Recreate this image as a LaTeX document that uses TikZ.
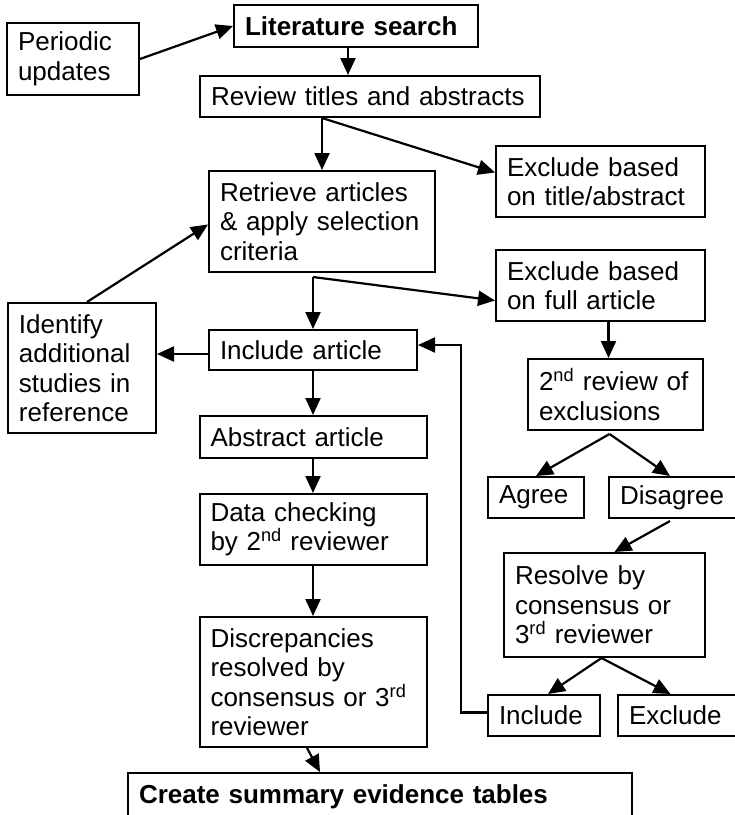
\documentclass[tikz,border=0pt]{standalone}
\usepackage{fontspec}
\setmainfont{Liberation Sans}
\usetikzlibrary{arrows.meta}
\def\nd{\textsuperscript{nd}}
\def\rd{\textsuperscript{rd}}
\begin{document}
\begin{tikzpicture}[x=1pt,y=1pt,
			box/.style={draw,rectangle,line width=2pt,align=left,inner xsep=11pt,inner ysep=2pt,
				font=\fontsize{26}{29.5}\selectfont},
			arr/.style={line width=2.2pt,-{Triangle[length=17pt,width=15pt]}}]
			\useasboundingbox (0,0) rectangle (735,-815);
			\clip (0,0) rectangle (735,-815);
			\node [box,text width=110pt,minimum height=72pt]	(periodic)	at (73,-59)	{Periodic\\updates};
			\node [box,text width=222pt,minimum height=42pt]	(lit)		at (356,-26)	{\textbf{Literature search}};
			\node [box,text width=318pt,minimum height=41pt]	(review)	at (370,-96.5)	{Review titles and abstracts};
			\node [box,text width=204pt,minimum height=101pt]	(retrieve)	at (322,-221.5)	{Retrieve articles\\\& apply selection\\criteria};
			\node [box,text width=187pt,minimum height=71pt]	(excltitle)	at (600.5,-181.5)	{Exclude based\\on title/abstract};
			\node [box,text width=187pt,minimum height=71pt]	(exclfull)	at (600.5,-285.5)	{Exclude based\\on full article};
			\node [box,text width=126pt,minimum height=130pt]	(identify)	at (82,-368)	{Identify\\additional\\studies in\\reference};
			\node [box,text width=186pt,minimum height=40pt]	(include)	at (313,-350)	{Include article};
			\node [box,text width=205pt,minimum height=42pt]	(abstract)	at (313,-437)	{Abstract article};
			\node [box,text width=205pt,minimum height=71pt]	(datacheck)	at (313,-529.5)	{Data checking\\by 2\nd{} reviewer};
			\node [box,text width=205pt,minimum height=130pt]	(discrep)	at (313,-682)	{Discrepancies\\resolved by\\consensus or 3\rd\\reviewer};
			\node [box,text width=482pt,minimum height=47pt]	(create)	at (380,-796.5)	{\textbf{Create summary evidence tables}};
			\node [box,text width=153pt,minimum height=71pt]	(review2)	at (615.5,-394.5)	{2\nd{} review of\\exclusions};
			\node [box,text width=74pt,minimum height=41pt]	(agree)		at (536,-497.5)	{Agree};
			\node [box,text width=114pt,minimum height=41pt]	(disagree)	at (677,-497.5)	{Disagree};
			\node [box,text width=179pt,minimum height=104pt]	(resolve)	at (604.5,-605)	{Resolve by\\consensus or\\3\rd{} reviewer};
			\node [box,text width=90pt,minimum height=41pt]	(incl2)		at (544,-715.5)	{Include};
			\node [box,text width=105pt,minimum height=41pt]	(excl2)		at (681.5,-715.5)	{Exclude};

			\draw [arr] (periodic.east) -- (lit.west);
			\draw [arr] ([xshift=-8pt]lit.south) -- ([xshift=-8pt]lit.south |- review.north);
			\draw [arr] (review.south -| retrieve.north) -- (retrieve.north);
			\draw [arr] (review.south -| retrieve.north) -- ([yshift=9pt]excltitle.west);
			\coordinate (split) at ([yshift=-4pt]retrieve.south -| include.north);
			\draw [arr] (split) -- (include.north);
			\draw [arr] (split) -- ([yshift=-15pt]exclfull.west);
			\draw [arr] ([xshift=5pt]identify.north) -- ([yshift=-3pt]retrieve.west);
			\draw [arr] ([yshift=-4pt]include.west) -- ([yshift=-4pt]include.west -| identify.east);
			\draw [arr] (include.south) -- (abstract.north);
			\draw [arr] (abstract.south) -- (datacheck.north);
			\draw [arr] (datacheck.south) -- (discrep.north);
			\draw [arr] ([xshift=-6pt]discrep.south) -- ([xshift=-60pt]create.north);
			\draw [arr] ([xshift=8pt]exclfull.south) -- ([xshift=8pt]exclfull.south |- review2.north);
			\coordinate (fork1) at ([xshift=-6pt,yshift=-3pt]review2.south);
			\draw [arr] (fork1) -- (agree.north);
			\draw [arr] (fork1) -- ([xshift=-7pt]disagree.north);
			\draw [arr] ([xshift=-7pt,yshift=-2pt]disagree.south) -- ([xshift=10pt]resolve.north);
			\coordinate (fork2) at ([xshift=-3pt]resolve.south);
			\draw [arr] (fork2) -- ([xshift=4pt]incl2.north);
			\draw [arr] (fork2) -- ([xshift=-11pt]excl2.north);
			\draw [arr] ([yshift=3pt]incl2.west) -- ++(-26,0) |- ([yshift=5pt]include.east);
		\end{tikzpicture}
\end{document}
